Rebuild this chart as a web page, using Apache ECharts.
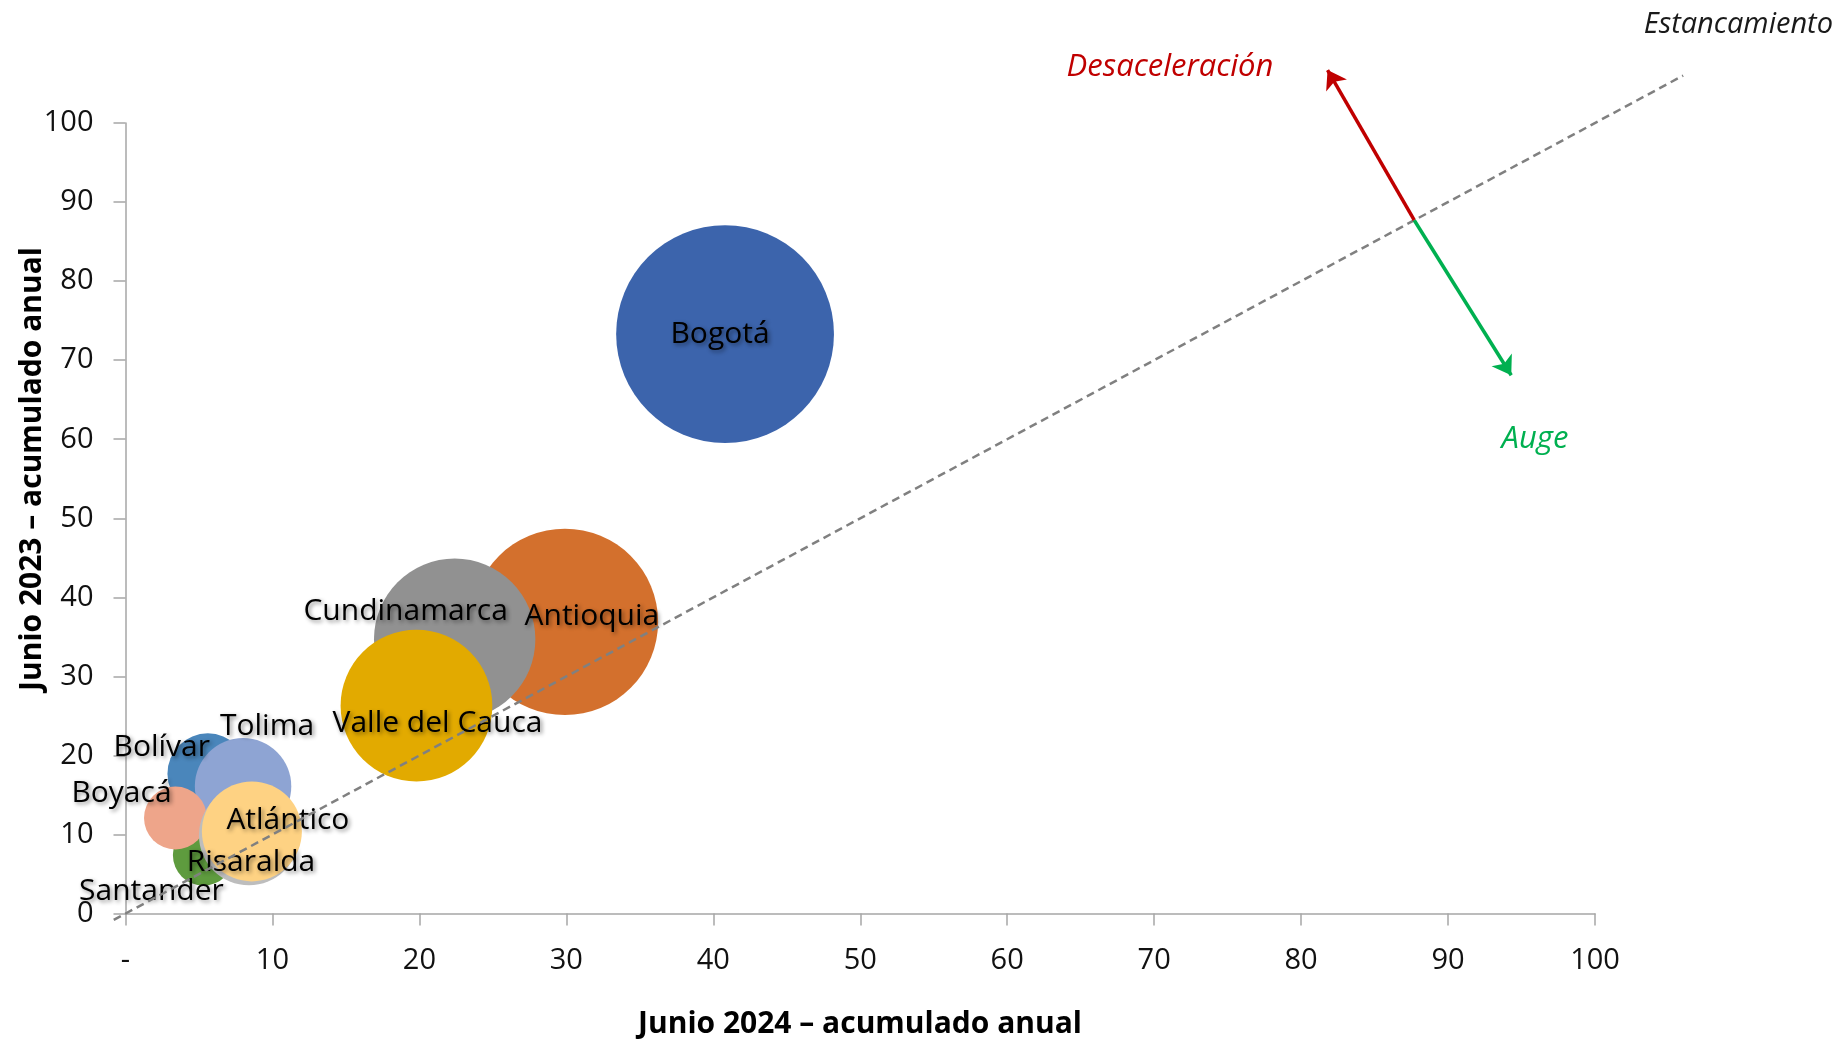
<!DOCTYPE html>
<html>
<head>
<meta charset="utf-8">
<script src="https://cdn.jsdelivr.net/npm/echarts@6/dist/echarts.min.js"></script>
<style>
  html, body { margin: 0; padding: 0; background: #ffffff; }
  #chart { width: 1839px; height: 1040px; }
</style>
</head>
<body>
<div id="chart"></div>
<script>
// Departamentos y sus valores acumulados anuales
const departamentos = ['Bogotá', 'Antioquia', 'Cundinamarca', 'Valle del Cauca', 'Bolívar',
  'Tolima', 'Santander', 'Boyacá', 'Risaralda', 'Atlántico'];
const junio2024 = [40.8, 29.9, 22.4, 19.8, 5.6, 8.0, 5.3, 3.4, 8.4, 8.6];
const junio2023 = [73.3, 36.9, 34.7, 26.3, 17.7, 16.1, 7.4, 12.1, 9.9, 10.4];
const tamanoBurbuja = [40.8, 29.9, 22.4, 19.8, 5.6, 8.0, 3.2, 3.4, 8.6, 8.6];

// Marcas de los ejes
const ticksX = [0, 10, 20, 30, 40, 50, 60, 70, 80, 90, 100];
const ticksY = [0, 10, 20, 30, 40, 50, 60, 70, 80, 90, 100];

// Línea de referencia (2023 = 2024) y flechas de dirección
const lineaEstancamiento = [[-0.8, -0.8], [106, 106]];
const cruce = [87.7, 87.7];
const puntaDesaceleracion = [81.8, 106.7];
const puntaAuge = [94.3, 68.1];

// Estilo de cada burbuja
const colores = ['#3c64ac', '#d3702d', '#919191', '#e2aa00', '#4a86bb',
  '#8ea4d3', '#5e9b3e', '#eea58a', '#bdbdbd', '#fed283'];
const desplazamientoEtiqueta = [[-5, 0], [27, -5], [-49, -28], [21, 18], [-46, -26],
  [24, -60], [-52, 36], [-54, -24], [2, 27], [36, -11]];

const FUENTE = '"Open Sans", "Noto Sans", sans-serif';
const ESCALA_BURBUJA = 34.1; // diámetro en px por raíz del tamaño

const burbujas = departamentos.map((nombre, i) => ({
  name: nombre,
  value: [junio2024[i], junio2023[i], tamanoBurbuja[i]],
  itemStyle: { color: colores[i] },
  label: { offset: desplazamientoEtiqueta[i] }
}));

const chart = echarts.init(document.getElementById('chart'));
chart.setOption({
  animation: false,
  backgroundColor: '#ffffff',
  grid: { left: 125.5, right: 244, top: 123, bottom: 126.4 },
  xAxis: {
    type: 'value', min: ticksX[0], max: ticksX[ticksX.length - 1], interval: 10,
    axisLine: { show: true, onZero: false, lineStyle: { color: '#a6a6a6', width: 1.5 } },
    axisTick: { show: true, length: 12, lineStyle: { color: '#a6a6a6', width: 1.5 } },
    splitLine: { show: false },
    axisLabel: {
      margin: 33, fontSize: 29, color: '#111111', fontFamily: FUENTE,
      formatter: v => (v === 0 ? '-' : String(v))
    }
  },
  yAxis: {
    type: 'value', min: ticksY[0], max: ticksY[ticksY.length - 1], interval: 10,
    axisLine: { show: true, onZero: false, lineStyle: { color: '#a6a6a6', width: 1.5 } },
    axisTick: { show: true, length: 12, lineStyle: { color: '#a6a6a6', width: 1.5 } },
    splitLine: { show: false },
    axisLabel: { margin: 32, fontSize: 29, color: '#111111', fontFamily: FUENTE }
  },
  series: [
    {
      type: 'scatter',
      z: 2,
      data: burbujas,
      symbolSize: v => ESCALA_BURBUJA * Math.sqrt(v[2]),
      itemStyle: { opacity: 1 },
      label: {
        show: true, position: 'inside',
        formatter: p => p.name,
        fontFamily: FUENTE, fontSize: 30, color: '#000000',
        textShadowColor: 'rgba(0,0,0,0.45)', textShadowBlur: 4,
        textShadowOffsetX: 2, textShadowOffsetY: 2
      },
      emphasis: { disabled: true }
    },
    {
      // Línea de estancamiento: 2023 igual a 2024
      type: 'lines',
      coordinateSystem: 'cartesian2d',
      z: 3,
      clip: false,
      symbol: 'none',
      data: [{ coords: lineaEstancamiento }],
      lineStyle: { color: '#808080', width: 2.5, type: [8, 5], opacity: 1 },
      silent: true
    },
    {
      type: 'lines',
      coordinateSystem: 'cartesian2d',
      z: 4,
      clip: false,
      symbol: ['none', 'arrow'],
      symbolSize: 18,
      data: [
        { coords: [cruce, puntaDesaceleracion], lineStyle: { color: '#c00000' } },
        { coords: [cruce, puntaAuge], lineStyle: { color: '#00b050' } }
      ],
      lineStyle: { width: 3.5, opacity: 1 },
      silent: true
    }
  ],
  graphic: [
    {
      type: 'text', x: 860, y: 1024,
      style: {
        text: 'Junio 2024 – acumulado anual', font: 'bold 30px ' + FUENTE,
        fill: '#000000', align: 'center', verticalAlign: 'middle'
      }
    },
    {
      type: 'text', x: 32, y: 469, rotation: Math.PI / 2,
      style: {
        text: 'Junio 2023 – acumulado anual', font: 'bold 30px ' + FUENTE,
        fill: '#000000', align: 'center', verticalAlign: 'middle'
      }
    },
    {
      type: 'text', x: 1170, y: 67,
      style: {
        text: 'Desaceleración', font: 'italic 31px ' + FUENTE,
        fill: '#c00000', align: 'center', verticalAlign: 'middle'
      }
    },
    {
      type: 'text', x: 1833, y: 25,
      style: {
        text: 'Estancamiento', font: 'italic 29px ' + FUENTE,
        fill: '#1a1a1a', align: 'right', verticalAlign: 'middle'
      }
    },
    {
      type: 'text', x: 1535, y: 439,
      style: {
        text: 'Auge', font: 'italic 31px ' + FUENTE,
        fill: '#00b050', align: 'center', verticalAlign: 'middle'
      }
    }
  ]
});
</script>
</body>
</html>
